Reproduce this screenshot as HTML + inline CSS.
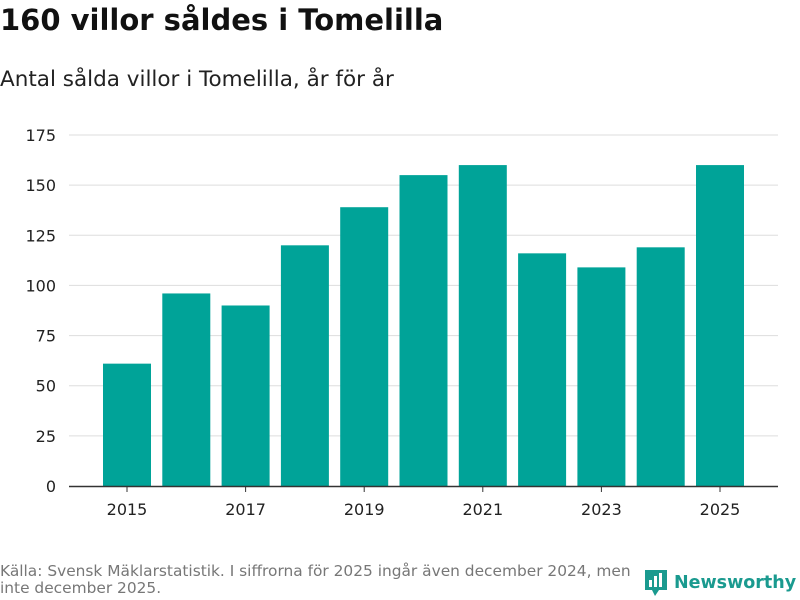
<!DOCTYPE html>
<html><head><meta charset="utf-8">
<style>
body{margin:0;width:800px;height:600px;background:#fff;font-family:"DejaVu Sans","Liberation Sans",sans-serif;overflow:hidden;position:relative}
#title{position:absolute;left:0;top:3px;font-size:29px;font-weight:bold;color:#111;margin:0;font-family:"DejaVu Sans",sans-serif}
#subtitle{position:absolute;left:0;top:67px;font-size:21.5px;color:#222;font-family:"DejaVu Sans",sans-serif}
#source{position:absolute;left:0;top:563px;font-size:15.4px;color:#777;line-height:17px;width:642px;font-family:"DejaVu Sans",sans-serif}
#logo{position:absolute;left:644px;top:569px;display:flex;align-items:center;gap:6px;color:#1a9a8f;font-size:17.5px;font-weight:bold;font-family:"DejaVu Sans",sans-serif}
</style></head><body>
<h1 id="title">160 villor såldes i Tomelilla</h1>
<div id="subtitle">Antal sålda villor i Tomelilla, år för år</div>
<svg id="chart" width="800" height="600" style="position:absolute;left:0;top:0"></svg>
<div id="source">Källa: Svensk Mäklarstatistik. I siffrorna för 2025 ingår även december 2024, men inte december 2025.</div>
<div id="logo">
<svg width="24" height="28" viewBox="0 0 24 28"><path d="M1 1h22v20h-8l-4 6-3-6H1z" fill="#1a9a8f"/><rect x="5" y="11" width="3" height="7" fill="#fff"/><rect x="10" y="7" width="3" height="11" fill="#fff"/><rect x="15" y="4" width="3" height="14" fill="#fff"/></svg>
<span>Newsworthy</span></div>
<script>
const categories=["2015","2016","2017","2018","2019","2020","2021","2022","2023","2024","2025"];
const values=[61,96,90,120,139,155,160,116,109,119,160];
const yTicks=[0,25,50,75,100,125,150,175];
const xTickLabels=["2015","2017","2019","2021","2023","2025"];
const svg=document.getElementById('chart');
const NS="http://www.w3.org/2000/svg";
const y0=486,yTop=135,yMax=175;
const y=v=>y0-(v/yMax)*(y0-yTop);
const x=i=>127+i*59.3;
function mk(t,a){const e=document.createElementNS(NS,t);for(const k in a)e.setAttribute(k,a[k]);svg.appendChild(e);return e;}
yTicks.forEach(t=>{
  if(t>0){const g=mk('line',{x1:69,x2:778,y1:y(t),y2:y(t),stroke:'#ddd','stroke-width':1});
  
  }
  const l=mk('text',{x:56,y:y(t)+6,'text-anchor':'end','font-size':16,fill:'#222','font-family':'DejaVu Sans, sans-serif'});
  l.textContent=t;
  
  
});
values.forEach((v,i)=>{
  const b=mk('rect',{x:x(i)-24,y:y(v),width:48,height:y0-y(v),fill:'#00a398'});
  
  
});
const ax=mk('line',{x1:69,x2:778,y1:y0+0.5,y2:y0+0.5,stroke:'#333','stroke-width':1.5});


xTickLabels.forEach(lab=>{
  const i=categories.indexOf(lab);
  const tk=mk('line',{x1:x(i),x2:x(i),y1:y0,y2:y0+6,stroke:'#333'});
  
  
  const t=mk('text',{x:x(i),y:515,'text-anchor':'middle','font-size':16,fill:'#222','font-family':'DejaVu Sans, sans-serif'});
  t.textContent=lab;
  
  
});
</script>
</body></html>
